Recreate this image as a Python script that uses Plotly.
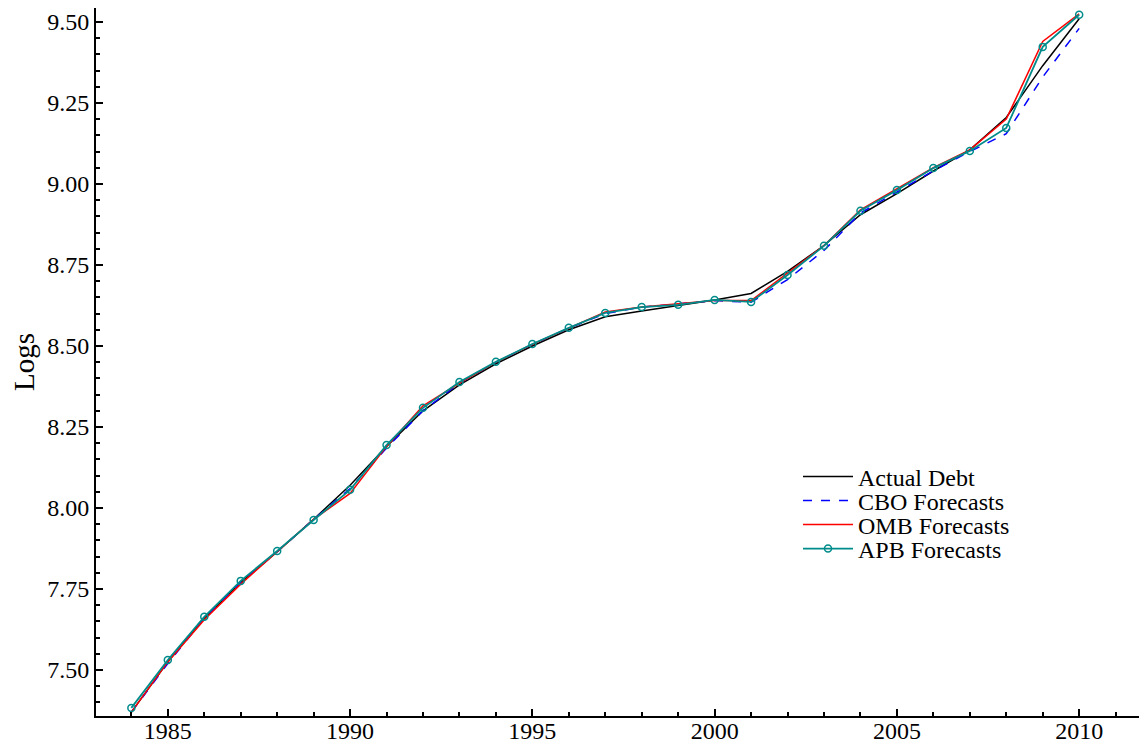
import plotly.graph_objects as go

years = list(range(1984, 2011))

actual_debt = [7.37, 7.525, 7.66, 7.77, 7.865, 7.965, 8.07, 8.19, 8.30, 8.38,
               8.445, 8.50, 8.55, 8.59, 8.608, 8.625, 8.642, 8.662, 8.73, 8.81,
               8.905, 8.97, 9.04, 9.105, 9.205, 9.365, 9.51]

cbo_forecasts = [7.37, 7.52, 7.66, 7.77, 7.865, 7.965, 8.06, 8.185, 8.30, 8.385,
                 8.45, 8.505, 8.555, 8.60, 8.62, 8.63, 8.64, 8.635, 8.705, 8.795,
                 8.91, 8.975, 9.04, 9.10, 9.155, 9.33, 9.48]

omb_forecasts = [7.37, 7.525, 7.655, 7.765, 7.865, 7.965, 8.045, 8.19, 8.315, 8.385,
                 8.45, 8.505, 8.555, 8.605, 8.62, 8.63, 8.64, 8.64, 8.725, 8.81,
                 8.92, 8.985, 9.05, 9.105, 9.20, 9.44, 9.525]

apb_forecasts = [7.383, 7.531, 7.664, 7.775, 7.867, 7.963, 8.056, 8.194, 8.309, 8.389,
                 8.451, 8.506, 8.556, 8.602, 8.620, 8.627, 8.642, 8.636, 8.719, 8.809,
                 8.917, 8.981, 9.049, 9.102, 9.173, 9.423, 9.522]

series_names = ["Actual Debt", "CBO Forecasts", "OMB Forecasts", "APB Forecasts"]

font_family = "Liberation Serif, Times New Roman, serif"

fig = go.Figure()
fig.add_trace(go.Scatter(x=years, y=actual_debt, mode="lines", name=series_names[0],
                         legend="legend", line=dict(color="black", width=1.5)))
fig.add_trace(go.Scatter(x=years, y=cbo_forecasts, mode="lines", name=series_names[1],
                         legend="legend2", line=dict(color="#0000ff", width=1.5, dash="dash")))
fig.add_trace(go.Scatter(x=years, y=omb_forecasts, mode="lines", name=series_names[2],
                         legend="legend3", line=dict(color="#ff0000", width=1.5)))
fig.add_trace(go.Scatter(x=years, y=apb_forecasts, mode="lines+markers", name=series_names[3],
                         legend="legend4", line=dict(color="#008b8b", width=1.8),
                         marker=dict(symbol="circle-open", size=7, color="#008b8b",
                                     line=dict(width=1.5, color="#008b8b"))))

legend_rows = [0.3376, 0.3037, 0.2698, 0.2359]
legend_common = dict(x=0.6629, xanchor="left", yanchor="middle", bgcolor="rgba(0,0,0,0)",
                     font=dict(size=24, family=font_family, color="black"),
                     itemwidth=50, borderwidth=0)

fig.update_layout(
    width=1147, height=746,
    margin=dict(l=88, r=0, t=0, b=38),
    paper_bgcolor="white", plot_bgcolor="white",
    font=dict(family=font_family, size=24, color="black"),
    showlegend=True,
    legend=dict(y=legend_rows[0], **legend_common),
    legend2=dict(y=legend_rows[1], **legend_common),
    legend3=dict(y=legend_rows[2], **legend_common),
    legend4=dict(y=legend_rows[3], **legend_common),
)
fig.update_xaxes(range=[1983.03, 2012.08], dtick=5, tick0=1985, showgrid=False, zeroline=False,
                 automargin=False, ticklabelstandoff=-8,
                 showline=True, linecolor="black", linewidth=2, ticks="inside", ticklen=7,
                 tickwidth=1.5, tickcolor="black",
                 minor=dict(dtick=1, ticks="inside", ticklen=4, tickwidth=1.5, tickcolor="black", showgrid=False))
fig.update_yaxes(range=[7.358, 9.543], dtick=0.25, tick0=7.5, tickformat=".2f", showgrid=False,
                 automargin=False,
                 zeroline=False, showline=True, linecolor="black", linewidth=2, ticks="inside",
                 ticklen=7, tickwidth=1.5, tickcolor="black",
                 title=dict(text="Logs", standoff=21),
                 minor=dict(dtick=0.05, ticks="inside", ticklen=4, tickwidth=1.5, tickcolor="black", showgrid=False))

fig.write_html("out.html")
